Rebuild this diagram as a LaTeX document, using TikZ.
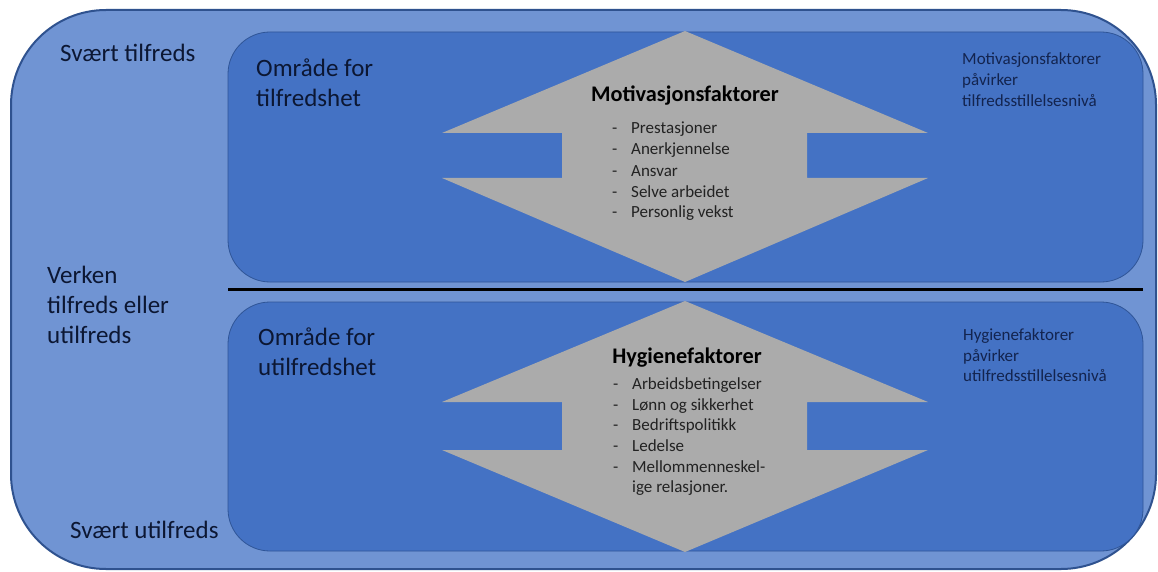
\documentclass[tikz,border=0pt]{standalone}
\usepackage{fontspec}
\setmainfont{Carlito}
\definecolor{outerfill}{HTML}{7094D3}
\definecolor{outerline}{HTML}{2F528F}
\definecolor{innerfill}{HTML}{4472C4}
\definecolor{innerline}{HTML}{2F5597}
\definecolor{arrowgray}{HTML}{ABABAB}
\definecolor{navytext}{HTML}{0C1733}
\definecolor{smalltext}{HTML}{13244F}
\definecolor{itemtext}{HTML}{222222}
\tikzset{
  biglabel/.style={anchor=base west, inner sep=0pt, text=navytext, font=\fontsize{25}{30}\selectfont},
  smalllabel/.style={anchor=base west, inner sep=0pt, text=smalltext, font=\fontsize{17}{21}\selectfont},
  itemlabel/.style={anchor=base west, inner sep=0pt, text=itemtext, font=\fontsize{17}{21}\selectfont},
  titlelabel/.style={anchor=base, inner sep=0pt, text=black, font=\fontsize{22.3}{26}\selectfont\bfseries},
  zonebox/.style={fill=innerfill, draw=innerline, line width=0.8pt, rounded corners=42pt},
  dblarrow/.style={fill=arrowgray}
}
\newcommand{\dashitem}[1]{\makebox[19pt][l]{-}#1}
\begin{document}
\begin{tikzpicture}[x=1pt,y=-1pt]
\useasboundingbox (0,0) rectangle (1158,572);
\fill[white] (0,0) rectangle (1158,572);
% outer frame
\draw[fill=outerfill, draw=outerline, line width=2pt, rounded corners=95pt] (11,10) rectangle (1156,569);
% inner zones
\draw[zonebox] (228,32) rectangle (1143,282);
\draw[zonebox] (228,302) rectangle (1143,551);
% separating line
\draw[line width=3.5pt, black] (228,289.5) -- (1143,289.5);
% double arrows
\fill[dblarrow] (685,31) -- (442,133) -- (562,133) -- (562,178) -- (442,178) -- (685,282)
  -- (928,178) -- (807,178) -- (807,133) -- (928,133) -- cycle;
\fill[dblarrow] (685,301) -- (442,402) -- (562,402) -- (562,450) -- (442,450) -- (685,552)
  -- (928,450) -- (807,450) -- (807,402) -- (928,402) -- cycle;
% left labels
\node[biglabel] (st) at (60,62) {Svært tilfreds};
\node[biglabel] (ve1) at (47,283) {Verken};
\node[biglabel] (ve2) at (47,313) {tilfreds eller};
\node[biglabel] (ve3) at (47,343) {utilfreds};
\node[biglabel] (su) at (70,538) {Svært utilfreds};
\node[biglabel] (ot1) at (256,77) {Område for};
\node[biglabel] (ot2) at (256,107) {tilfredshet};
\node[biglabel] (ou1) at (258,345) {Område for};
\node[biglabel] (ou2) at (258,375) {utilfredshet};
% titles
\node[titlelabel] (mt) at (685,102) {Motivasjonsfaktorer};
\node[titlelabel] (ht) at (687,363) {Hygienefaktorer};
% items top
\node[itemlabel] (m1) at (612,134) {\dashitem{Prestasjoner}};
\node[itemlabel] (m2) at (612,155) {\dashitem{Anerkjennelse}};
\node[itemlabel] (m3) at (612,176) {\dashitem{Ansvar}};
\node[itemlabel] (m4) at (612,197) {\dashitem{Selve arbeidet}};
\node[itemlabel] (m5) at (612,217) {\dashitem{Personlig vekst}};
% items bottom
\node[itemlabel] (h1) at (613,389) {\dashitem{Arbeidsbetingelser}};
\node[itemlabel] (h2) at (613,410) {\dashitem{Lønn og sikkerhet}};
\node[itemlabel] (h3) at (613,430) {\dashitem{Bedriftspolitikk}};
\node[itemlabel] (h4) at (613,451) {\dashitem{Ledelse}};
\node[itemlabel] (h5) at (613,472) {\dashitem{Mellommenneskel-}};
\node[itemlabel] (h6) at (632,492) {ige relasjoner.};
% right labels
\node[smalllabel] (r1) at (962,65) {Motivasjonsfaktorer};
\node[smalllabel] (r2) at (962,86) {påvirker};
\node[smalllabel] (r3) at (962,107) {tilfredsstillelsesnivå};
\node[smalllabel] (r4) at (963,340) {Hygienefaktorer};
\node[smalllabel] (r5) at (963,361) {påvirker};
\node[smalllabel] (r6) at (963,381) {utilfredsstillelsesnivå};
\end{tikzpicture}
\end{document}
